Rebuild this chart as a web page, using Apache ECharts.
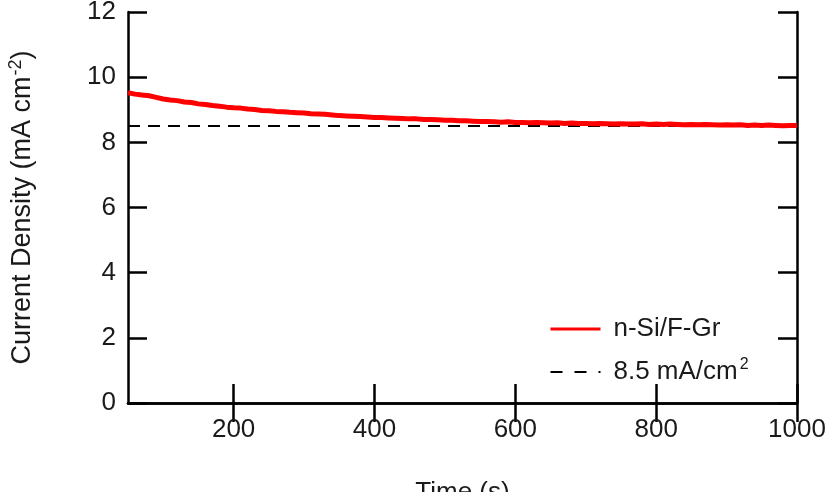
<!DOCTYPE html>
<html>
<head>
<meta charset="utf-8">
<script src="https://cdn.jsdelivr.net/npm/echarts@6/dist/echarts.min.js"></script>
<style>
  html, body { margin: 0; padding: 0; background: #fff; }
  #chart { width: 829px; height: 492px; }
</style>
</head>
<body>
<div id="chart"></div>
<script>
// time (s)
var timeArr = [50, 60, 70, 80, 90, 100, 110, 120, 130, 140, 150, 160, 170, 180, 190, 200,
  210, 220, 230, 240, 250, 260, 270, 280, 290, 300, 310, 320, 330, 340, 350, 360, 370, 380, 390, 400,
  410, 420, 430, 440, 450, 460, 470, 480, 490, 500, 510, 520, 530, 540, 550, 560, 570, 580, 590, 600,
  610, 620, 630, 640, 650, 660, 670, 680, 690, 700, 710, 720, 730, 740, 750, 760, 770, 780, 790, 800,
  810, 820, 830, 840, 850, 860, 870, 880, 890, 900, 910, 920, 930, 940, 950, 960, 970, 980, 990, 1000];
// current density n-Si/F-Gr (mA cm-2)
var densityArr = [9.52, 9.48, 9.45, 9.43, 9.38, 9.33, 9.30, 9.28, 9.24, 9.22, 9.18, 9.16, 9.13, 9.11, 9.08, 9.06,
  9.05, 9.02, 9.01, 8.98, 8.97, 8.95, 8.94, 8.92, 8.91, 8.90, 8.88, 8.87, 8.86, 8.84, 8.82, 8.81, 8.80, 8.79, 8.78, 8.76,
  8.76, 8.75, 8.74, 8.73, 8.72, 8.72, 8.70, 8.70, 8.69, 8.68, 8.68, 8.66, 8.66, 8.65, 8.64, 8.64, 8.63, 8.62, 8.63, 8.61,
  8.61, 8.60, 8.61, 8.60, 8.59, 8.60, 8.58, 8.59, 8.58, 8.58, 8.57, 8.58, 8.57, 8.56, 8.57, 8.56, 8.56, 8.57, 8.55, 8.56,
  8.55, 8.56, 8.55, 8.54, 8.55, 8.54, 8.55, 8.54, 8.53, 8.54, 8.53, 8.54, 8.52, 8.53, 8.52, 8.53, 8.52, 8.51, 8.52, 8.52];
// reference level
var refTime = [50, 1000];
var refLevel = [8.5, 8.5];
var xTicks = [200, 400, 600, 800, 1000];
var seriesNames = ['n-Si/F-Gr', '8.5 mA/cm2'];

var txt = '#1a1a1a';
var font = 'Liberation Sans, Arial, sans-serif';

var mainData = [];
for (var i = 0; i < timeArr.length; i++) {
  mainData.push([timeArr[i], densityArr[i]]);
}
var refData = [];
for (var j = 0; j < refTime.length; j++) {
  refData.push([refTime[j], refLevel[j]]);
}

var axisLineStyle = { color: '#000', width: 2.5 };
var tickStyle = { color: '#000', width: 2.5 };

var chart = echarts.init(document.getElementById('chart'));
var option = {
  animation: false,
  grid: { left: 128, right: 32, top: 12, bottom: 89, outerBoundsMode: 'none', containLabel: false },
  legend: {
    orient: 'vertical',
    left: 544,
    top: 311,
    itemWidth: 50,
    itemHeight: 14,
    itemGap: 15,
    itemStyle: { opacity: 0 },
    data: [
      { name: seriesNames[0], lineStyle: { width: 3 } },
      { name: seriesNames[1], lineStyle: { width: 2, type: [12, 12] } }
    ],
    formatter: function (name) {
      if (name === seriesNames[1]) {
        return '8.5 mA/cm{sup|2}';
      }
      return name;
    },
    textStyle: {
      color: txt,
      fontFamily: font,
      fontSize: 26,
      padding: [0, 0, 0, 8],
      rich: {
        sup: { fontSize: 16, fontFamily: font, color: txt, verticalAlign: 'top', padding: [0, 0, 14, 2] }
      }
    }
  },
  xAxis: [{
    type: 'value',
    min: 50,
    max: 1000,
    name: 'Time (s)',
    nameLocation: 'middle',
    nameGap: 77,
    nameTextStyle: { color: txt, fontFamily: font, fontSize: 26, verticalAlign: 'top' },
    axisLine: { show: true, lineStyle: axisLineStyle },
    axisTick: { show: true, inside: true, length: 19, customValues: xTicks, lineStyle: tickStyle },
    axisLabel: {
      customValues: xTicks, margin: 14, color: txt, fontFamily: font, fontSize: 26,
      formatter: function (v) { return String(v); }
    },
    splitLine: { show: false }
  }, {
    type: 'value',
    position: 'top',
    min: 50,
    max: 1000,
    axisLine: { show: true, lineStyle: axisLineStyle },
    axisTick: { show: true, inside: true, length: 19, customValues: xTicks, lineStyle: tickStyle },
    axisLabel: { show: false },
    splitLine: { show: false }
  }],
  yAxis: [{
    type: 'value',
    min: 0,
    max: 12,
    interval: 2,
    name: 'Current Density (mA cm{sup|-2})',
    nameLocation: 'middle',
    nameGap: 89,
    nameTextStyle: {
      color: txt, fontFamily: font, fontSize: 27,
      rich: {
        sup: { fontSize: 18, fontFamily: font, color: txt, verticalAlign: 'top', padding: [0, 0, 14, 1] }
      }
    },
    axisLine: { show: true, lineStyle: axisLineStyle },
    axisTick: { show: true, inside: true, length: 19, lineStyle: tickStyle },
    axisLabel: { margin: 12, color: txt, fontFamily: font, fontSize: 26 },
    splitLine: { show: false }
  }, {
    type: 'value',
    position: 'right',
    min: 0,
    max: 12,
    interval: 2,
    axisLine: { show: true, lineStyle: axisLineStyle },
    axisTick: { show: true, inside: true, length: 19, lineStyle: tickStyle },
    axisLabel: { show: false },
    splitLine: { show: false }
  }],
  series: [{
    name: seriesNames[1],
    type: 'line',
    data: refData,
    symbol: 'none',
    itemStyle: { color: '#000' },
    lineStyle: { color: '#000', width: 2, type: [12, 8] },
    z: 2
  }, {
    name: seriesNames[0],
    type: 'line',
    data: mainData,
    symbol: 'none',
    itemStyle: { color: '#ff0000' },
    lineStyle: { color: '#ff0000', width: 5 },
    z: 3
  }]
};
chart.setOption(option);
</script>
</body>
</html>
